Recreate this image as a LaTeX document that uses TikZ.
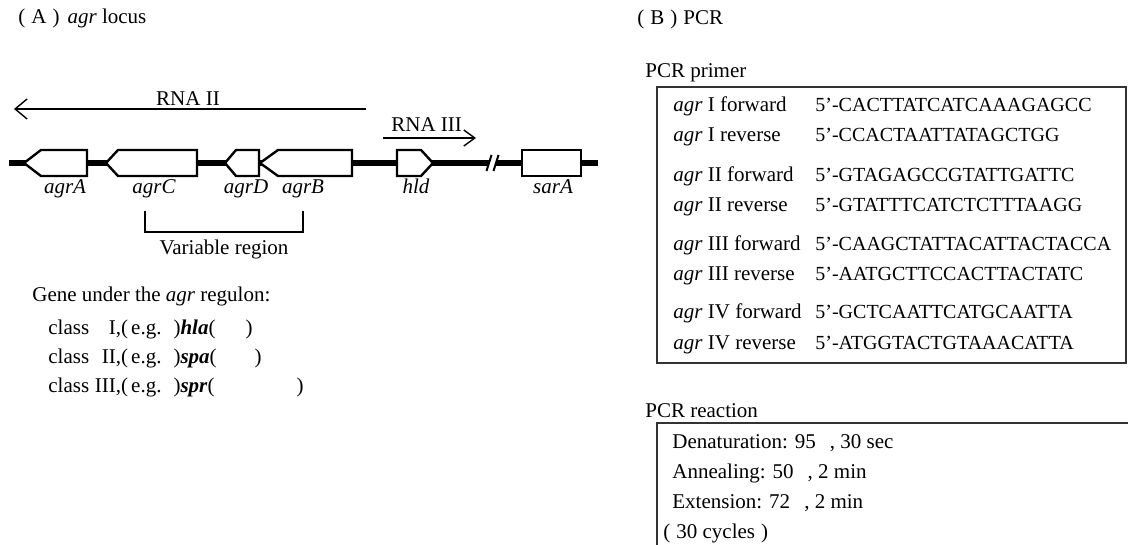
\documentclass[tikz,border=0pt]{standalone}
\usepackage{fontspec}
\setmainfont{Liberation Serif}
\usetikzlibrary{arrows.meta}

\begin{document}
\begin{tikzpicture}[
  x=0.5pt, y=-0.5pt,
  every node/.style={inner sep=0pt, font=\fontsize{10.5}{12}\selectfont},
  txt/.style={anchor=base west},
  glabel/.style={anchor=base, font=\fontsize{10.5}{12}\selectfont\itshape},
  seq/.style={anchor=base west, font=\fontsize{10}{12}\selectfont},
  gene/.style={draw, line width=1.2pt, fill=white, line join=miter},
  dna/.style={line width=2.6pt},
  rna/.style={line width=0.7pt},
  frame/.style={draw=black!80, line width=1pt},
]
  \useasboundingbox (0,0) rectangle (1128,545);

  % Panel titles
  \node[txt] (titleA) at (18,24) {(\hspace{3pt}A\hspace{3pt})\hspace{4pt}\textit{agr} locus};
  \node[txt] (titleB) at (637,25) {(\hspace{3pt}B\hspace{3pt})\hspace{3pt}PCR};

  % Transcripts
  \coordinate (rna2a) at (366,109);
  \coordinate (rna2b) at (14,109);
  \draw[rna, -{Straight Barb[length=6pt,width=10pt]}] (rna2a) -- (rna2b);
  \node[anchor=base] (rna2) at (188,106) {RNA II};
  \coordinate (rna3a) at (383,138);
  \coordinate (rna3b) at (476,138);
  \draw[rna, -{Straight Barb[length=5.5pt,width=8pt]}] (rna3a) -- (rna3b);
  \node[txt] (rna3) at (391,132) {RNA III};

  % Backbone with break
  \draw[dna] (9,163) -- (489,163);
  \draw[dna] (496,163) -- (598,163);
  \draw[line width=1pt] (486.5,171) -- (491.5,155);
  \draw[line width=1pt] (493.5,171) -- (498.5,155);

  % Genes
  \draw[gene] (24,163) -- (41,150) -- (87,150) -- (87,176) -- (41,176) -- cycle;
  \draw[gene] (106,163) -- (118,150) -- (197,150) -- (197,176) -- (118,176) -- cycle;
  \draw[gene] (225,163) -- (236,150) -- (259,150) -- (259,176) -- (236,176) -- cycle;
  \draw[gene] (260,163) -- (278,150) -- (352,150) -- (352,176) -- (278,176) -- cycle;
  \draw[gene] (397,150) -- (421,150) -- (433,163) -- (421,176) -- (397,176) -- cycle;
  \draw[gene] (522,150) rectangle (581,176);

  % Gene labels
  \node[glabel] (agrA) at (65,194) {agrA};
  \node[glabel] (agrC) at (154,194) {agrC};
  \node[glabel] (agrD) at (246,194) {agrD};
  \node[glabel] (agrB) at (303,194) {agrB};
  \node[glabel] (hld) at (416,194) {hld};
  \node[glabel] (sarA) at (553,194) {sarA};

  % Variable region
  \draw[line width=1pt] (145,211) |- (303,232) -- (303,211);
  \node[anchor=base] (varreg) at (224,254) {Variable region};

  % Regulon
  \node[txt] (regulon) at (32,301) {Gene under the \textit{agr} regulon:};
  \node[txt] (cls1) at (48,334) {class\makebox[16pt][r]{I,}(\hspace{1.5pt}e.g.\hspace{6pt})\textbf{\textit{hla}}(\hspace{15pt})};
  \node[txt] (cls2) at (48,363) {class\makebox[16pt][r]{II,}(\hspace{1.5pt}e.g.\hspace{6pt})\textbf{\textit{spa}}(\hspace{19pt})};
  \node[txt] (cls3) at (48,392) {class\makebox[16pt][r]{III,}(\hspace{1.5pt}e.g.\hspace{6pt})\textbf{\textit{spr}}(\hspace{41pt})};

  % PCR primer
  \node[txt] (primer) at (645,78) {PCR primer};
  \draw[frame] (657,87) rectangle (1126,363);
  \foreach \i/\yb/\cls/\dir/\sq in {1/112/I/forward/CACTTATCATCAAAGAGCC,
      2/142/I/reverse/CCACTAATTATAGCTGG, 3/182/II/forward/GTAGAGCCGTATTGATTC,
      4/212/II/reverse/GTATTTCATCTCTTTAAGG, 5/250/III/forward/CAAGCTATTACATTACTACCA,
      6/280/III/reverse/AATGCTTCCACTTACTATC, 7/318/IV/forward/GCTCAATTCATGCAATTA,
      8/349/IV/reverse/ATGGTACTGTAAACATTA} {
    \node[txt] (pname\i) at (673,\yb) {\textit{agr} \cls{} \dir};
    \node[seq] (pseq\i) at (815,\yb) {5'-\sq};
  }

  % PCR reaction
  \node[txt] (reaction) at (645,417) {PCR reaction};
  \draw[frame] (657,545) |- (1128,423);
  \node[txt] (den) at (672,448) {Denaturation: 95\hspace{7pt}, 30 sec};
  \node[txt] (ann) at (672,478) {Annealing: 50\hspace{7pt}, 2 min};
  \node[txt] (ext) at (672,508) {Extension: 72\hspace{7pt}, 2 min};
  \node[txt] (cyc) at (663,538) {(\hspace{3pt}30 cycles\hspace{3pt})};
\end{tikzpicture}
\end{document}
